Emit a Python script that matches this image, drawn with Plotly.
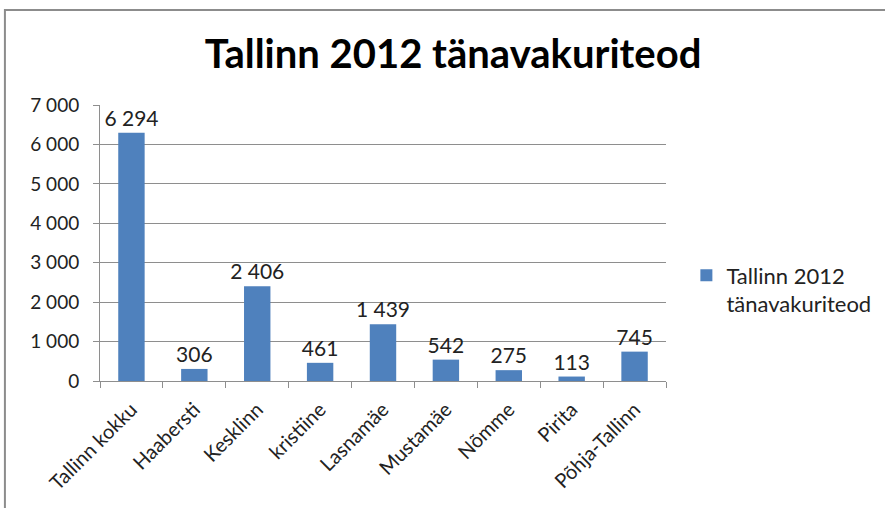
import plotly.graph_objects as go

categories = ["Tallinn kokku", "Haabersti", "Kesklinn", "kristiine", "Lasnamäe",
              "Mustamäe", "Nõmme", "Pirita", "Põhja-Tallinn"]
values = [6294, 306, 2406, 461, 1439, 542, 275, 113, 745]
series_name = "Tallinn 2012<br>tänavakuriteod"
title_text = "Tallinn 2012 tänavakuriteod"
y_ticks = [0, 1000, 2000, 3000, 4000, 5000, 6000, 7000]

FONT = "Lato, Liberation Sans, sans-serif"
BLUE = "#4F81BD"
TXT = "#222222"
GRID = "#8e8e8e"

fig = go.Figure()
fig.add_trace(go.Bar(
    x=categories, y=values, name=series_name,
    marker=dict(color=BLUE, line=dict(width=0)),
    texttemplate="%{y:,d}", textposition="outside", cliponaxis=False,
    constraintext="none",
    textfont=dict(family=FONT, size=21, color=TXT),
    showlegend=True,
))

fig.update_layout(
    width=885, height=508,
    margin=dict(l=100, r=219, t=105, b=127, autoexpand=False),
    paper_bgcolor="white", plot_bgcolor="white",
    separators=". ",
    bargap=0.58,
    title=dict(text="<b>" + title_text + "</b>", x=0.512, xanchor="center",
               y=0.893, yanchor="middle",
               font=dict(family=FONT, size=40, color="black")),
    font=dict(family=FONT, size=19, color=TXT),
    legend=dict(x=1.036, y=0.33, xanchor="left", yanchor="middle",
                valign="top",
                font=dict(family=FONT, size=22, color=TXT),
                bgcolor="rgba(0,0,0,0)", itemwidth=30),
    xaxis=dict(type="category", showgrid=False, showline=True,
               linecolor=GRID, linewidth=1,
               ticks="outside", tickson="boundaries", ticklen=6,
               tickcolor=GRID, tickangle=-45, ticklabelstandoff=8,
               tickfont=dict(family=FONT, size=20, color=TXT)),
    yaxis=dict(range=[0, 7000], tickvals=y_ticks, tickformat=",d",
               showgrid=True, gridcolor=GRID, gridwidth=1,
               showline=True, linecolor=GRID, linewidth=1,
               ticks="outside", ticklen=6, tickcolor=GRID,
               zeroline=False, ticklabelstandoff=10,
               tickfont=dict(family=FONT, size=19, color=TXT)),
    shapes=[dict(type="rect", xref="paper", yref="paper",
                 x0=-0.168, x1=2.0, y0=-1.0, y1=1.344,
                 line=dict(color="#8c8c8c", width=2), layer="below")],
)

fig.write_html("out.html", config={"displayModeBar": False},
               post_script="document.body.style.margin='0';")
